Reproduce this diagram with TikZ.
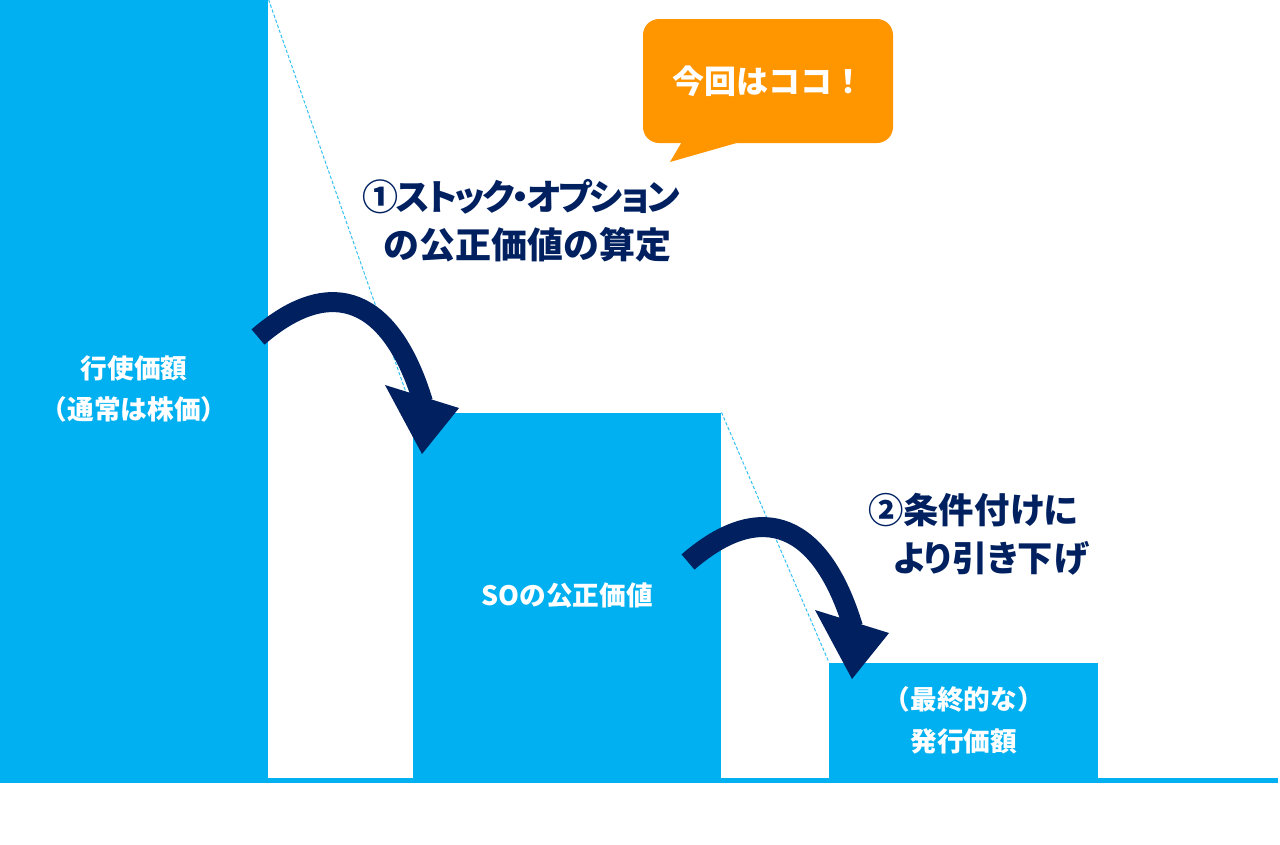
\documentclass[tikz,border=0pt]{standalone}
\usepackage{fontspec}
\setmainfont{Noto Sans CJK JP}
\newfontfamily\jpp[RawFeature=+palt]{Noto Sans CJK JP}
\newfontfamily\jppn[RawFeature=+palt,LetterSpace=-7]{Noto Sans CJK JP}
\usetikzlibrary{arrows.meta}
\definecolor{barblue}{HTML}{00B0F0}
\definecolor{navy}{HTML}{002060}
\definecolor{bubbleorange}{HTML}{FF9600}
\begin{document}
\begin{tikzpicture}[x=0.75pt,y=-0.75pt,
  bar/.style={fill=barblue, draw=none, inner sep=0pt, text=white, font=\bfseries\fontsize{20pt}{31pt}\selectfont, align=center},
  heading/.style={anchor=west, inner sep=0pt, text=navy, font=\bfseries\fontsize{27pt}{32pt}\selectfont},
  heading2/.style={anchor=west, inner sep=0pt, text=navy, font=\jpp\bfseries\fontsize{26.5pt}{32pt}\selectfont},
  shaft/.style={draw=navy, line width=15pt},
  arrowhead/.style={fill=navy},
  guide/.style={draw=barblue!80, line width=0.75pt, dash pattern=on 2.5pt off 1.5pt}
]
\useasboundingbox (0,0) rectangle (1280,844);
% bars
\node[bar, anchor=south west, minimum width=201pt, minimum height=583.5pt] (b1) at (0,778) {行使価額\\（通常は株価）};
\node[bar, anchor=south west, minimum width=231pt, minimum height=273.75pt] (b2) at (413,778) {SOの公正価値};
\node[bar, anchor=south west, minimum width=201.75pt, minimum height=86.25pt] (b3) at (829,778) {（最終的な）\\発行価額};
% baseline
\coordinate (bl) at (0,780.5);
\coordinate (br) at (1278,780.5);
\draw[barblue, line width=3.75pt] (bl) -- (br);
% guides
\draw[guide] (b1.north east) -- (b2.north west);
\draw[guide] (b2.north east) -- (b3.north west);
% bubble
\fill[bubbleorange] (683,140) -- (670,162) -- (747,140) -- cycle;
\node[fill=bubbleorange, rounded corners=12pt, minimum width=187.5pt, minimum height=93pt, text=white, font=\bfseries\fontsize{24pt}{28pt}\selectfont] (bubble) at (768,81) {今回はココ！};
% arrow 1
\coordinate (a1s) at (258,337);
\coordinate (a1e) at (423,402);
\coordinate (a1l) at (385,385);
\coordinate (a1r) at (459,408);
\coordinate (a1t) at (422,454);
\draw[shaft] (a1s) .. controls (333,272) and (392,300) .. (a1e);
\fill[arrowhead] (a1l) -- (a1t) -- (a1r) -- cycle;
% arrow 2
\coordinate (a2s) at (688,562);
\coordinate (a2e) at (853,627);
\coordinate (a2l) at (815,610);
\coordinate (a2r) at (889,633);
\coordinate (a2t) at (852,679);
\draw[shaft] (a2s) .. controls (763,497) and (822,525) .. (a2e);
\fill[arrowhead] (a2l) -- (a2t) -- (a2r) -- cycle;
% headings
\node[heading, font=\jppn\bfseries\fontsize{27pt}{32pt}\selectfont] (h1a) at (362,197) {①ストック・オプション};
\node[heading] (h1b) at (383,245) {の公正価値の算定};
\node[heading2] (h2a) at (868,510) {②条件付けに};
\node[heading2] (h2b) at (893,558) {より引き下げ};
\end{tikzpicture}
\end{document}
